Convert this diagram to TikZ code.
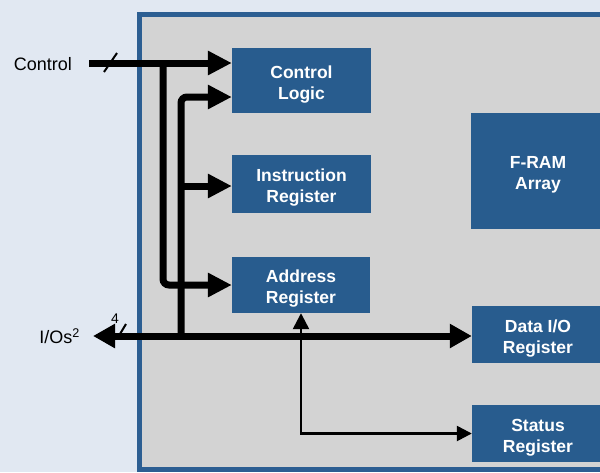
\documentclass[tikz,border=0pt]{standalone}
\usepackage{fontspec}
\setmainfont{Liberation Sans}
\usetikzlibrary{arrows.meta}
\definecolor{pagebg}{RGB}{225,232,242}
\definecolor{chipgray}{RGB}{211,211,211}
\definecolor{chipedge}{RGB}{44,94,146}
\definecolor{blockblue}{RGB}{40,92,142}
\tikzset{
  block/.style={rectangle, fill=blockblue, text=white, inner sep=0pt,
    text height=37pt, text depth=0pt,
    font=\bfseries\fontsize{17.5}{21}\selectfont, align=center},
  bus/.style={line width=7pt, -{Triangle[length=24pt,width=23pt]}},
  sig/.style={line width=2.5pt, {Triangle[length=16pt,width=16pt]}-{Triangle[length=15pt,width=15pt]}},
  slash/.style={line width=2pt},
  lbl/.style={inner sep=0pt, font=\fontsize{18}{21}\selectfont}
}
\begin{document}
\begin{tikzpicture}[x=1pt,y=-1pt]
  \useasboundingbox (0,0) rectangle (600,472);
  \clip (0,0) rectangle (600,472);
  \fill[pagebg] (0,0) rectangle (600,472);
  % device outline
  \draw[fill=chipgray, draw=chipedge, line width=5pt] (139.5,14.5) rectangle (640,469.5);

  % functional blocks
  \node[block, minimum width=139pt, minimum height=65pt] (ctrl) at (301.5,80.5) {Control\\Logic};
  \node[block, minimum width=139pt, minimum height=58pt] (instr) at (301.5,184) {Instruction\\Register};
  \node[block, minimum width=138pt, minimum height=56pt] (addr) at (301,285) {Address\\Register};
  \node[block, minimum width=134pt, minimum height=116pt] (fram) at (538,171) {F-RAM\\Array};
  \node[block, minimum width=132pt, minimum height=57pt] (dataio) at (538,334.5) {Data I/O\\Register};
  \node[block, minimum width=132pt, minimum height=57pt] (status) at (538,433.5) {Status\\Register};

  % pin labels
  \node[lbl, anchor=east] (ctrllbl) at (72,64) {Control};
  \node[lbl, anchor=east] (iolbl) at (80,336) {I/Os\textsuperscript{2}};
  \node[inner sep=0pt, font=\fontsize{14}{16}\selectfont] (buswidth) at (115,319) {4};

  % junction points
  \coordinate (ctrlin) at (89,63);
  \coordinate (j1) at (163,63);
  \coordinate (j2) at (181,336);
  \coordinate (j3) at (181,186);
  \coordinate (iotip) at (93,336);

  % thin status/address path
  \draw[sig] (addr.south) |- (status.west);

  % control bus
  \draw[bus] (ctrlin) -- ([yshift=17.5pt]ctrl.west);
  \draw[bus, rounded corners=6pt] (j1) |- (addr.west);
  \draw[bus, rounded corners=6pt] (j2) |- ([yshift=-16.5pt]ctrl.west);
  \draw[bus] (j3) -- (instr.west |- j3);

  % I/O bus
  \draw[line width=7pt, {Triangle[length=22pt,width=23pt]}-{Triangle[length=22pt,width=23pt]}] (iotip) -- (dataio.west |- iotip);

  % bus width marks
  \draw[slash] (104,72) -- (117,53);
  \draw[slash] (120,334) -- (126,324);
\end{tikzpicture}
\end{document}
